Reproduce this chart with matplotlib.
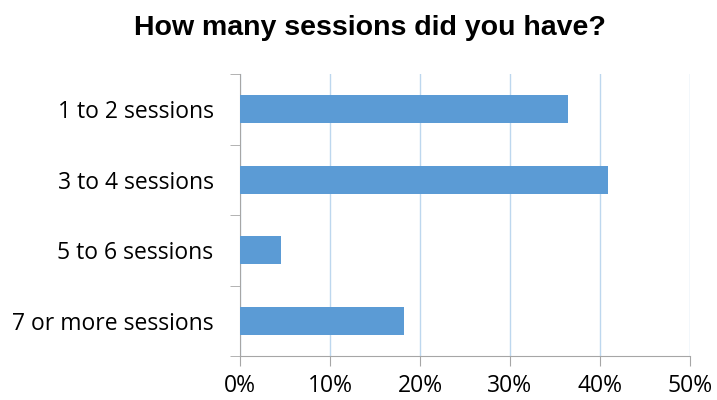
import matplotlib
matplotlib.use('Agg')
import matplotlib.pyplot as plt
from matplotlib.ticker import FuncFormatter, FixedLocator

# data
categories = ['1 to 2 sessions', '3 to 4 sessions', '5 to 6 sessions', '7 or more sessions']
values = [36.4, 40.9, 4.5, 18.2]
x_ticks = [0, 10, 20, 30, 40, 50]

fig = plt.figure(figsize=(7.17, 4.0), dpi=100)
ax = fig.add_axes([240/717, 44/400, 450/717, 282/400])

y = list(range(len(categories)))
ax.barh(y, values, height=0.4, color='#5B9BD5', zorder=3)
ax.set_ylim(len(categories) - 0.5, -0.5)
ax.set_xlim(0, 50)

ax.set_xticks(x_ticks)
ax.xaxis.set_major_formatter(FuncFormatter(lambda v, p: f'{v:.0f}%'))
ax.set_yticks(y)
ax.set_yticklabels(categories)
ax.yaxis.set_minor_locator(FixedLocator([i - 0.5 for i in range(len(categories) + 1)]))

ax.grid(axis='x', color='#BDD7EE', linewidth=1, zorder=0)
for s in ['top', 'right']:
    ax.spines[s].set_visible(False)
for s in ['left', 'bottom']:
    ax.spines[s].set_color('#A6A6A6')

ax.tick_params(axis='y', which='major', length=0, pad=19, labelsize=16.5)
ax.tick_params(axis='y', which='minor', length=7, color='#A6A6A6')
ax.tick_params(axis='x', length=7, color='#A6A6A6', labelsize=16.5, pad=6)
for lab in ax.get_xticklabels() + ax.get_yticklabels():
    lab.set_fontfamily('Open Sans')

fig.text(0.516, 0.93, 'How many sessions did you have?', ha='center', va='center',
         fontsize=20.5, fontweight='bold', fontfamily='Liberation Sans')

fig.savefig('out.png', dpi=100)
